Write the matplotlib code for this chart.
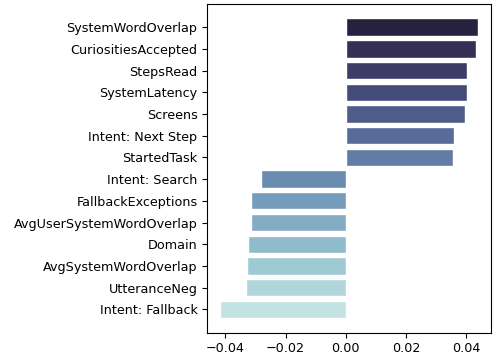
import numpy as np
import matplotlib
matplotlib.use("Agg")
import matplotlib.pyplot as plt
import seaborn as sns

features = ["SystemWordOverlap", "CuriositiesAccepted", "StepsRead", "SystemLatency",
            "Screens", "Intent: Next Step", "StartedTask", "Intent: Search",
            "FallbackExceptions", "AvgUserSystemWordOverlap", "Domain",
            "AvgSystemWordOverlap", "UtteranceNeg", "Intent: Fallback"]
coefs = [0.0440, 0.0434, 0.0403, 0.0403, 0.0398, 0.0360, 0.0357,
         -0.0282, -0.0313, -0.0316, -0.0323, -0.0327, -0.0332, -0.0417]

n = len(features)
colors = sns.color_palette("ch:start=.2,rot=-.3", n)[::-1]

fig = plt.figure(figsize=(5.03, 3.53), dpi=100)
ax = fig.add_axes([207.3 / 503, 1 - 333 / 353, (491 - 207.3) / 503, (333 - 3.5) / 353])

y = np.arange(n)
ax.barh(y, coefs, height=0.8, color=colors, edgecolor="white", linewidth=1)
ax.set_yticks(y)
ax.set_yticklabels(features, fontsize=9.2)
ax.invert_yaxis()
ax.set_xticks([-0.04, -0.02, 0.0, 0.02, 0.04])
ax.tick_params(axis="x", labelsize=9.2, pad=3)

fig.savefig("out.png", dpi=100)
